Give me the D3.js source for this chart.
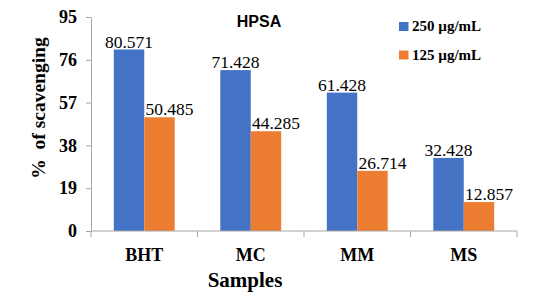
<!DOCTYPE html>
<html>
<head>
<meta charset="utf-8">
<script src="https://cdn.jsdelivr.net/npm/d3@7"></script>
<style>
  body { margin: 0; background: #fff; }
</style>
</head>
<body>
<svg id="chart"></svg>
<script>
// chart data
const categories = ['BHT', 'MC', 'MM', 'MS'];
const seriesNames = ['250 \u00b5g/mL', '125 \u00b5g/mL'];
const values250 = [80.571, 71.428, 61.428, 32.428];
const values125 = [50.485, 44.285, 26.714, 12.857];
const yTicks = [0, 19, 38, 57, 76, 95];
const colors = ['#4472C4', '#ED7D31'];

const serif = "'Liberation Serif', 'Times New Roman', Times, serif";
const sans = "'Liberation Sans', Arial, sans-serif";

const width = 542, height = 303;
const margin = {top: 17, right: 25, bottom: 72, left: 91};
const innerW = width - margin.left - margin.right;
const innerH = height - margin.top - margin.bottom;

const svg = d3.select('#chart')
  .attr('width', width)
  .attr('height', height)
  .style('font-family', serif);

const chart = svg.append('g')
  .attr('transform', `translate(${margin.left},${margin.top})`);

const xScale = d3.scaleBand()
  .domain(categories)
  .range([0, innerW]);

const xInner = d3.scaleBand()
  .domain([0, 1])
  .range([0, xScale.bandwidth()])
  .paddingOuter(0.75)
  .paddingInner(0);

const yScale = d3.scaleLinear()
  .domain([0, 95])
  .range([innerH, 0]);

// y axis
const yAxis = d3.axisLeft(yScale)
  .tickValues(yTicks)
  .tickSize(5)
  .tickSizeOuter(0);

const yAxisG = chart.append('g').call(yAxis)
  .attr('font-family', null)
  .attr('font-size', null);
yAxisG.select('.domain').attr('stroke', '#a6a6a6');
yAxisG.selectAll('.tick line').attr('stroke', '#a6a6a6');
yAxisG.selectAll('.tick text')
  .attr('x', -14)
  .attr('fill', '#000')
  .style('font-family', serif)
  .style('font-size', '18px')
  .style('font-weight', 'bold');

// bars
const groups = chart.selectAll('.group')
  .data(categories)
  .join('g')
  .attr('class', 'group')
  .attr('transform', d => `translate(${xScale(d)},0)`);

const seriesData = [values250, values125];
groups.each(function(cat, ci) {
  const g = d3.select(this);
  seriesData.forEach((vals, si) => {
    const v = vals[ci];
    g.append('rect')
      .attr('x', xInner(si))
      .attr('y', yScale(v))
      .attr('width', xInner.bandwidth())
      .attr('height', innerH - yScale(v))
      .attr('fill', colors[si]);
    // orange labels sit a little to the right, as in the original
    g.append('text')
      .attr('x', xInner(si) + xInner.bandwidth() / 2 + (si === 1 ? 10 : 0))
      .attr('y', yScale(v) - 2)
      .attr('text-anchor', 'middle')
      .style('font-family', serif)
      .style('font-size', '17.5px')
      .attr('fill', '#000')
      .text(v.toFixed(3));
  });
});

// x axis with boundary ticks
const xAxisG = chart.append('g')
  .attr('transform', `translate(0,${innerH})`);
xAxisG.append('line')
  .attr('x1', 0).attr('x2', innerW)
  .attr('stroke', '#a6a6a6');
const bounds = categories.map(c => xScale(c)).concat([innerW]);
xAxisG.selectAll('.bound')
  .data(bounds)
  .join('line')
  .attr('class', 'bound')
  .attr('x1', d => d).attr('x2', d => d)
  .attr('y1', 0).attr('y2', 6)
  .attr('stroke', '#a6a6a6');
xAxisG.selectAll('.xlabel')
  .data(categories)
  .join('text')
  .attr('class', 'xlabel')
  .attr('x', d => xScale(d) + xScale.bandwidth() / 2)
  .attr('y', 30)
  .attr('text-anchor', 'middle')
  .style('font-family', serif)
  .style('font-size', '18px')
  .style('font-weight', 'bold')
  .text(d => d);

// axis titles
svg.append('text')
  .attr('x', 245)
  .attr('y', 287)
  .attr('text-anchor', 'middle')
  .style('font-family', serif)
  .style('font-size', '21px')
  .style('font-weight', 'bold')
  .text('Samples');

svg.append('text')
  .attr('transform', 'translate(45,108) rotate(-90)')
  .attr('text-anchor', 'middle')
  .style('font-family', serif)
  .style('font-size', '19.5px')
  .style('font-weight', 'bold')
  .style('white-space', 'pre')
  .text('%  of scavenging');

// title
svg.append('text')
  .attr('x', 259)
  .attr('y', 27)
  .attr('text-anchor', 'middle')
  .style('font-family', sans)
  .style('font-size', '16px')
  .style('font-weight', 'bold')
  .text('HPSA');

// legend
const legend = svg.append('g')
  .attr('transform', 'translate(399,22)');
seriesNames.forEach((name, i) => {
  const row = legend.append('g').attr('transform', `translate(0,${i * 28.5})`);
  row.append('rect')
    .attr('width', 9.5).attr('height', 9)
    .attr('fill', colors[i]);
  row.append('text')
    .attr('x', 13)
    .attr('y', 9)
    .style('font-family', serif)
    .style('font-size', '15px')
    .style('font-weight', 'bold')
    .text(name);
});
</script>
</body>
</html>
